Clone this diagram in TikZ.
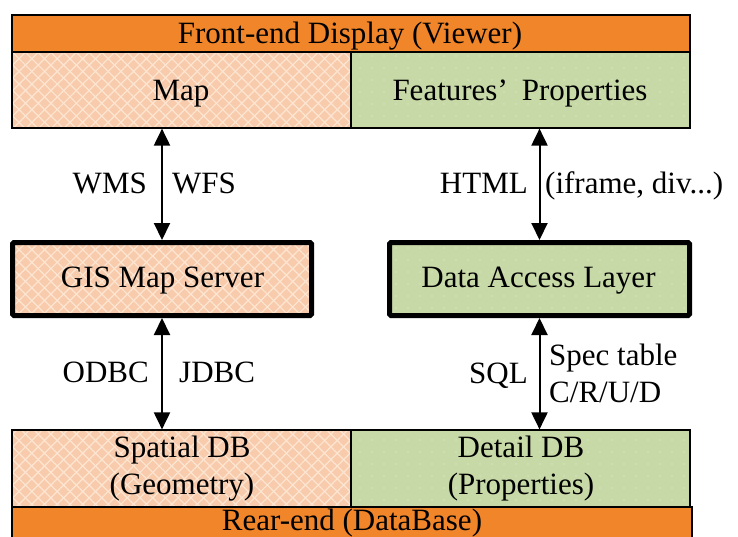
\documentclass[tikz,border=0pt]{standalone}
\usepackage{fontspec}
\setmainfont{Liberation Serif}
\usetikzlibrary{patterns.meta,arrows.meta,calc}
\definecolor{barorange}{HTML}{F1852A}
\definecolor{lorange}{HTML}{F8CBAD}
\definecolor{hatch}{HTML}{FCE6D2}
\definecolor{lgreen}{HTML}{C8D9A8}
\definecolor{dotc}{HTML}{D6E4BC}
\tikzset{
  x=1pt, y=-1pt,
  every node/.style={font=\fontsize{31}{35}\selectfont, inner sep=0pt},
  bar/.style={draw=black, line width=1.2pt, fill=barorange},
  obox/.style={draw=black, line width=1.2pt,
    preaction={fill=lorange},
    preaction={pattern={Lines[angle=45,distance=9pt,line width=1.2pt]}, pattern color=hatch},
    preaction={pattern={Lines[angle=-45,distance=9pt,line width=1.2pt]}, pattern color=hatch}},
  gbox/.style={draw=black, line width=1.2pt,
    preaction={fill=lgreen},
    preaction={pattern={Dots[distance=12pt,radius=0.9pt]}, pattern color=dotc}},
  thickbox/.style={line width=5pt, rounded corners=1.5pt},
  arr/.style={{Triangle[width=16pt,length=17pt]}-{Triangle[width=16pt,length=17pt]}, line width=2pt},
  txt/.style={anchor=base},
  labl/.style={anchor=base east},
  labr/.style={anchor=base west}
}
\begin{document}
\begin{tikzpicture}
\useasboundingbox (0,0) rectangle (738,536);
\clip (0,0) rectangle (738,536);
% boxes
\node[bar, minimum width=678pt, minimum height=37pt] (top) at (351,33.5) {};
\node[obox, minimum width=339pt, minimum height=76pt] (map) at (181.5,90) {};
\node[gbox, minimum width=339pt, minimum height=76pt] (feat) at (520.5,90) {};
\node[obox, thickbox, minimum width=299pt, minimum height=73pt] (gis) at (162,279) {};
\node[gbox, thickbox, minimum width=300pt, minimum height=73pt] (dal) at (539.5,279) {};
\node[obox, minimum width=339pt, minimum height=77pt] (spatial) at (181.5,468.5) {};
\node[gbox, minimum width=339pt, minimum height=77pt] (detail) at (520.5,468.5) {};
\node[bar, minimum width=680pt, minimum height=40pt] (rear) at (352,527) {};
% box texts
\node[txt] (toptxt) at (350,43) {Front-end Display (Viewer)};
\node[txt] (maptxt) at (181,100) {Map};
\node[txt] (feattxt) at (520,100) {Features’\hspace{0.45em}Properties};
\node[txt] (gistxt) at (162.5,287) {GIS Map Server};
\node[txt] (daltxt) at (538.5,287) {Data Access Layer};
\node[txt] (sptxt1) at (182,457) {Spatial DB};
\node[txt] (sptxt2) at (182,494) {(Geometry)};
\node[txt] (dttxt1) at (521,457) {Detail DB};
\node[txt] (dttxt2) at (521,494) {(Properties)};
\node[txt] (reartxt) at (352,530) {Rear-end (DataBase)};
% arrows
\draw[arr] (map.south -| gis.north) -- (gis.north);
\draw[arr] (feat.south -| dal.north) -- (dal.north);
\draw[arr] (gis.south) -- (spatial.north -| gis.south);
\draw[arr] (dal.south) -- (detail.north -| dal.south);
% labels
\node[labl] (wms) at (147,193) {WMS};
\node[labr] (wfs) at (172,193) {WFS};
\node[labl] (html) at (528,193) {HTML};
\node[labr] (ifr) at (545,193) {(iframe, div...)};
\node[labl] (odbc) at (149,382) {ODBC};
\node[labr] (jdbc) at (179,382) {JDBC};
\node[labl] (sql) at (528,383) {SQL};
\node[labr] (spec1) at (549,365) {Spec table};
\node[labr] (spec2) at (549,402) {C/R/U/D};
\end{tikzpicture}
\end{document}
